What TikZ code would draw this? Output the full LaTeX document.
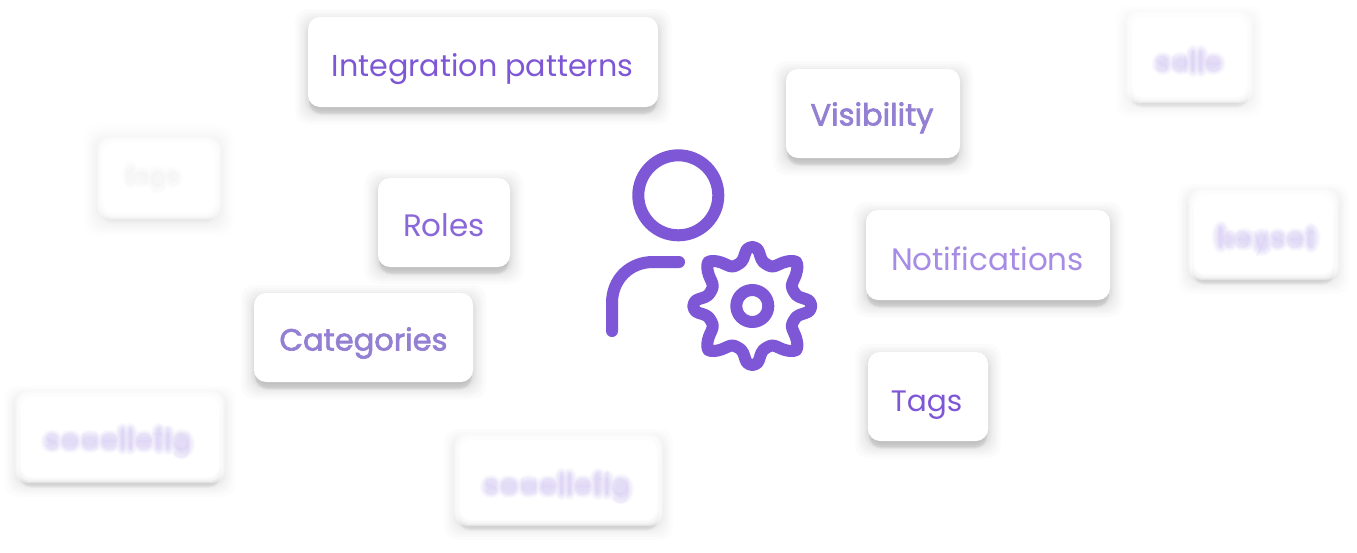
\documentclass[tikz,border=0pt]{standalone}
\usepackage{fontspec}
\setmainfont{Poppins}
\newfontfamily\softbold[FakeBold=2.2]{Poppins}
\definecolor{violet}{HTML}{7E57D6}
\definecolor{violetmid}{HTML}{8A68D9}
\definecolor{violetpale}{HTML}{A78CE5}
\definecolor{violetdull}{HTML}{9480D2}
\definecolor{violetfog}{HTML}{A68EEC}
% name x1 y1 x2 y2 strength blur
\newcommand{\cardbox}[7]{%
  \pgfmathsetmacro{\opa}{0.014*#6}
  \foreach \s in {1,2,3,4,6,8,10,13}{%
    \fill[black,opacity=\opa,rounded corners=13pt]
      ({#2-\s},{#3+5-\s}) rectangle ({#4+\s},{#5+4+\s});
  }%
  \pgfmathsetmacro{\opb}{0.028*#6}
  \foreach \s in {2,4,6,7,8}{%
    \fill[black,opacity=\opb,rounded corners=13pt]
      ({#2+1},{#3+8}) rectangle ({#4-1},{#5+\s});
  }%
  \ifnum#7>0
    \foreach \s in {3,2,1,0,-1,-2}{%
      \fill[white,opacity=.4,rounded corners=13pt]
        ({#2-\s},{#3-\s}) rectangle ({#4+\s},{#5+\s});
    }%
    \fill[white,rounded corners=11pt] ({#2+3},{#3+3}) rectangle ({#4-3},{#5-3});
  \else
    \fill[white,rounded corners=12pt] (#2,#3) rectangle (#4,#5);
  \fi
  \coordinate (#1) at ({(#2+#4)/2},{(#3+#5)/2});
}
% x0 baseline opacity; \foglist holds x/y/rx/ry, one soft blob per letter
\newcommand{\letterfog}[3]{%
  \foreach \e in {1.5,2.5,3.5,4.5,5.5,6.5,7.5,8.5}{%
    \fill[violetfog,opacity=#3]
      \foreach \a/\b/\c/\d in \foglist {({#1+\a},{#2+\b}) ellipse ({\c+\e} and {\d+\e})};
  }%
}
\tikzset{
  iconline/.style={draw=violet,line width=12pt,line cap=round,line join=round},
  label/.style={inner sep=0pt,anchor=base},
  fs/.style={font=\fontsize{#1}{#1}\selectfont}
}
\begin{document}
\begin{tikzpicture}[x=1pt,y=-1pt]
\useasboundingbox (0,0) rectangle (1357,552);
\fill[white] (0,0) rectangle (1357,552);

% cards
\foreach \s in {4,6,8,10,12,14,16}{%
  \fill[black,opacity=.005,rounded corners=16pt] ({100-\s},{140-\s}) rectangle ({218+\s},{216+5+\s});
}
\cardbox{tagsmall}{100}{140}{218}{216}{0.25}{1}
\cardbox{sulle}{1129}{14}{1250}{100}{0.7}{1}
\cardbox{keyset}{1191}{192}{1336}{277}{0.8}{1}
\cardbox{soua}{18}{394}{222}{480}{0.9}{1}
\cardbox{soub}{457}{437}{660}{523}{0.9}{1}
\cardbox{integ}{308}{17}{658}{107}{1}{0}
\cardbox{visib}{786}{69}{960}{158}{1}{0}
\cardbox{roles}{378}{178}{510}{267}{1}{0}
\cardbox{notif}{866}{210}{1110}{300}{1}{0}
\cardbox{categ}{254}{293}{473}{382}{1}{0}
\cardbox{tags}{868}{352}{988}{441}{1}{0}

% sharp labels
\node[label,text=violet,fs=30.2] (integtext) at (482.5,76) {Integration patterns};
\node[label,text=violetmid,fs=31] (rolestext) at (444,236) {Roles};
\node[label,text=violetpale,fs=31] (notiftext) at (987.5,270) {Notifications};
\node[label,text=violet,fs=29.6] (tagstext) at (926.5,411) {Tags};

% slightly blurred labels
\node[label,text=violetdull,font=\softbold\fontsize{30.5}{30.5}\selectfont] (visibtext) at (872,125.5) {Visibility};
\node[label,text=violetdull,font=\softbold\fontsize{30.5}{30.5}\selectfont] (categtext) at (363.5,350.5) {Categories};

% strongly blurred labels: soft letter blobs under the faint text
\def\foglist{8/-8.5/3/3.5,26/-8.5/4.5/3.5,46/-8.5/4.5/3.5,65/-8.5/4.5/3.5,78.6/-11/.3/8,86.3/-11/.3/8,100/-8.5/4.5/3.5,115/-11/1/8,124/-10/.3/7,138/-6/4.5/7}
\letterfog{44}{450}{.04}
\letterfog{483}{495}{.04}
\def\foglist{8/-8.5/3/3.5,26/-8.5/4.5/3.5,38/-11/.3/8,46/-11/.3/8,58/-8.5/4.5/3.5}
\letterfog{1155}{72}{.04}
\def\foglist{5/-11/1/8,13/-8/2.5/3,28/-8.5/4.5/3.5,46/-6/4/6,62/-8.5/3/3.5,80/-8.5/4.5/3.5,95/-10/1/7}
\letterfog{1216}{248}{.04}
\def\foglist{6/-11/1/6,17/-9/4/3,32/-7/4/6,47/-9/3/3}
\letterfog{125}{186}{.009}
\node[label,text=violetpale,text opacity=.06,fs=31] (souatext) at (118.5,450) {souellefig};
\node[label,text=violetpale,text opacity=.06,fs=31] (soubtext) at (557.5,495) {souellefig};
\node[label,text=violetpale,text opacity=.06,fs=30] (sulletext) at (1188.5,72) {sulle};
\node[label,text=violetpale,text opacity=.06,fs=31] (keysettext) at (1266.5,248) {keyset};
\node[label,text=violetpale,text opacity=.015,fs=26] (smalltext) at (152,186) {tags};

% icon: person
\draw[iconline] (678.3,195.3) circle (40);
\draw[iconline] (612,331) -- (612,303) .. controls (612,279) and (630,262) .. (653,262) -- (679,262);

% icon: gear
\begin{scope}[shift={(752.3,306)}]
\draw[iconline,smooth cycle,tension=.55] plot coordinates {
 (0,-59) (5.5,-56.5) (8,-50) (11,-44) (20,-39.5) (31,-43.5) (38,-45) (44,-44) (45,-38) (43.5,-31) (39.5,-20) (44,-11) (50,-8) (56.5,-5.5)
 (59,0) (56.5,5.5) (50,8) (44,11) (39.5,20) (43.5,31) (45,38) (44,44) (38,45) (31,43.5) (20,39.5) (11,44) (8,50) (5.5,56.5)
 (0,59) (-5.5,56.5) (-8,50) (-11,44) (-20,39.5) (-31,43.5) (-38,45) (-44,44) (-45,38) (-43.5,31) (-39.5,20) (-44,11) (-50,8) (-56.5,5.5)
 (-59,0) (-56.5,-5.5) (-50,-8) (-44,-11) (-39.5,-20) (-43.5,-31) (-45,-38) (-44,-44) (-38,-45) (-31,-43.5) (-20,-39.5) (-11,-44) (-8,-50) (-5.5,-56.5)};
\draw[iconline] (0,0) circle (16);
\end{scope}
\end{tikzpicture}
\end{document}
